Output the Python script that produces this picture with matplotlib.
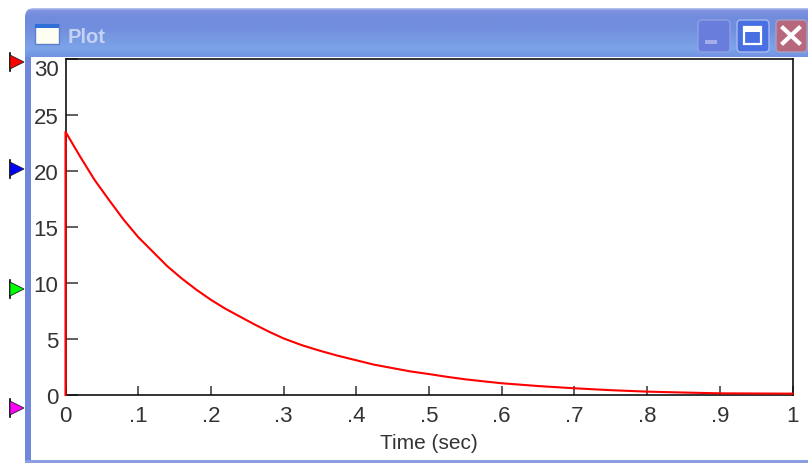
import numpy as np
import matplotlib
matplotlib.use("Agg")
import matplotlib.pyplot as plt
from matplotlib.patches import Rectangle, FancyBboxPatch

plt.rcParams['font.family'] = ['Liberation Sans', 'DejaVu Sans']

# curve
time_sec = [0, 0, .02, .04, .06, .08, .1, .12, .14, .16, .18, .2, .22, .24, .26, .28, .3, .325, .35, .375, .4,
            .425, .45, .475, .5, .525, .55, .575, .6, .65, .7, .75, .8, .85, .9, 1]
values = [0, 23.5, 21.3, 19.2, 17.4, 15.65, 14.1, 12.8, 11.5, 10.4, 9.4, 8.5, 7.7, 7.0, 6.3, 5.65, 5.05, 4.45, 3.95, 3.5, 3.1,
          2.7, 2.4, 2.1, 1.87, 1.62, 1.4, 1.22, 1.05, .8, .6, .43, .3, .22, .15, .12]

x_ticks = [0, .1, .2, .3, .4, .5, .6, .7, .8, .9, 1]
x_labels = ['0', '.1', '.2', '.3', '.4', '.5', '.6', '.7', '.8', '.9', '1']
y_ticks = [0, 5, 10, 15, 20, 25, 30]
y_labels = ['0', '5', '10', '15', '20', '25', '30']

# cursor markers on the left edge, in y pixels
marker_y = [63, 170, 290, 409]
marker_colors = ['#ff0000', '#0000ff', '#00ff00', '#ff00ff']

W, H = 808, 464
fig = plt.figure(figsize=(W / 100, H / 100), dpi=100)

# window chrome drawn in pixel coordinates
bg = fig.add_axes([0, 0, 1, 1])
bg.axis('off')

# title bar gradient, clipped to get the rounded corner
stops_y = [0, 2, 8, 20, 40, 49]
stops_r = [178, 128, 114, 114, 124, 112]
stops_g = [192, 148, 140, 142, 164, 146]
stops_b = [240, 226, 220, 222, 232, 226]
rows = np.arange(49)
img = np.stack([np.interp(rows, stops_y, stops_r), np.interp(rows, stops_y, stops_g),
                np.interp(rows, stops_y, stops_b)], axis=1)[:, None, :] / 255
im = bg.imshow(img, extent=(25, W, 58, 9), aspect='auto', zorder=1)
bg.set_xlim(0, W)
bg.set_ylim(H, 0)
clip = FancyBboxPatch((25, 9), 830, 80, boxstyle='round,pad=0,rounding_size=9', fc='none', ec='none')
bg.add_patch(clip)
im.set_clip_path(clip)

bg.add_patch(Rectangle((31, 58), W - 31, 403, fc='white', ec='none', zorder=2))
bg.add_patch(Rectangle((25, 58), 6, H - 58, fc='#7088dc', ec='none', zorder=2))
bg.add_patch(Rectangle((25, 461), W - 25, 3, fc='#8c9ee2', ec='none', zorder=2))

# title icon and text
bg.add_patch(Rectangle((35, 25), 24, 20, fc='#fdfdf2', ec='#5f80cc', lw=1, zorder=4))
bg.add_patch(Rectangle((35, 25), 24, 4, fc='#2f6fd8', ec='none', zorder=5))
bg.text(68, 37.5, 'Plot', color='#c4d2f4', fontsize=14.5, fontweight='bold', va='center', ha='left', zorder=5)

# title bar buttons
bg.add_patch(FancyBboxPatch((698, 21), 32, 32, boxstyle='round,pad=0,rounding_size=4',
                            fc='#687ddc', ec='#8ea0e4', lw=1, zorder=4))
bg.add_patch(Rectangle((705, 41), 12, 4, fc='#a4aee8', ec='none', zorder=5))
bg.add_patch(FancyBboxPatch((737, 21), 32, 32, boxstyle='round,pad=0,rounding_size=4',
                            fc='#4870e2', ec='#a6b8ee', lw=1, zorder=4))
bg.add_patch(Rectangle((744, 28), 17, 17, fc='none', ec='white', lw=1.6, zorder=5))
bg.add_patch(Rectangle((744, 28), 17, 5, fc='white', ec='none', zorder=5))
bg.add_patch(FancyBboxPatch((776, 21), 31, 32, boxstyle='round,pad=0,rounding_size=4',
                            fc='#b8687c', ec='#a8a0c4', lw=1, zorder=4))
bg.plot([783, 799], [29, 44], color='white', lw=3, zorder=5)
bg.plot([783, 799], [44, 29], color='white', lw=3, zorder=5)

# cursor markers
for my, mc in zip(marker_y, marker_colors):
    bg.plot([10, 10], [my - 9, my + 9], color='black', lw=1.2, zorder=6)
    bg.fill([10, 24, 10], [my - 7, my, my + 7], fc=mc, ec='#202020', lw=.6, zorder=6)

# plot area
ax = fig.add_axes([65.5 / W, 1 - 396 / H, 727 / W, 336 / H])
ax.set_xlim(0, 1)
ax.set_ylim(0, 30)
ax.plot(time_sec, values, color='#ff0000', lw=1.5, clip_on=False, zorder=3)
for s in ax.spines.values():
    s.set_linewidth(1.2)
    s.set_color('#101010')
ax.set_xticks(x_ticks)
ax.set_xticklabels(x_labels)
ax.set_yticks(y_ticks)
ax.set_yticklabels(y_labels)
ax.tick_params(axis='x', direction='in', length=6.5, width=1.1, labelsize=16, colors='#333333', pad=7)
ax.tick_params(axis='y', direction='in', length=8.6, width=1.1, labelsize=16, colors='#333333', pad=5)
ax.get_yticklabels()[-1].set_va('top')
ax.set_xlabel('Time (sec)', fontsize=15, color='#333333', labelpad=5)

fig.savefig('out.png', dpi=100)
